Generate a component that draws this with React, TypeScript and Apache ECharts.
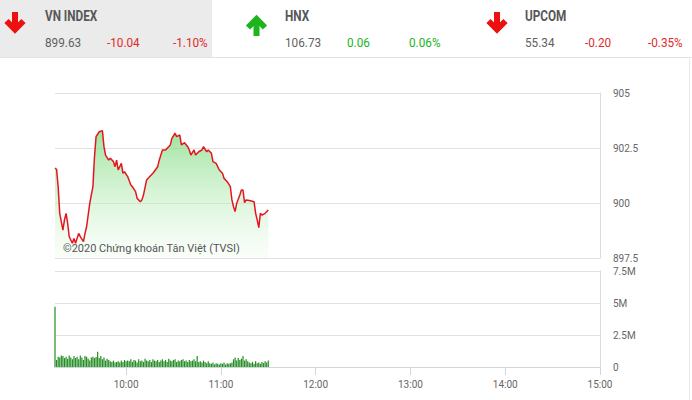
import { useEffect, useRef } from 'react';
import * as echarts from 'echarts';

// Intraday VN-Index (price line) — traced points
const priceTimes = [
  '09:15','09:16','09:17','09:18','09:20','09:21','09:22','09:23','09:24','09:25',
  '09:26','09:27','09:28','09:30','09:31','09:33','09:34','09:35','09:37','09:39',
  '09:40','09:41','09:43','09:45','09:46','09:47','09:49','09:50','09:52','09:53',
  '09:54','09:55','09:57','09:58','09:59','10:01','10:03','10:04','10:06','10:07',
  '10:09','10:10','10:11','10:13','10:15','10:17','10:20','10:21','10:23','10:25',
  '10:28','10:29','10:31','10:32','10:34','10:35','10:37','10:39','10:40','10:41',
  '10:43','10:44','10:46','10:48','10:49','10:51','10:52','10:54','10:55','10:57',
  '10:59','11:01','11:02','11:04','11:06','11:07','11:08','11:09','11:10','11:12',
  '11:13','11:14','11:15','11:16','11:18','11:21','11:22','11:23','11:24','11:25',
  '11:26','11:28','11:30'
];
const priceValues = [
  901.58, 901.53, 900.74, 899.53, 898.77, 899.23, 899.53, 899.08, 898.47, 898.32,
  898.17, 898.39, 898.17, 898.62, 898.47, 898.24, 898.62, 898.92, 899.98, 900.74,
  902.11, 903.02, 903.24, 903.29, 902.56, 902.18, 901.95, 902.03, 901.88, 901.65,
  901.95, 901.5, 901.8, 901.35, 901.42, 901.2, 900.82, 900.74, 900.52, 900.21,
  900.06, 900.14, 900.36, 901.05, 901.2, 901.35, 901.65, 901.95, 902.41, 902.41,
  902.64, 902.94, 903.17, 903.02, 903.09, 902.64, 902.74, 902.56, 902.41, 902.18,
  902.41, 902.18, 902.33, 902.41, 902.56, 902.33, 902.41, 902.26, 901.88, 901.8,
  901.5, 901.35, 901.12, 900.97, 900.74, 900.14, 899.83, 899.61, 899.98, 900.36,
  900.59, 900.59, 900.02, 900.14, 900.11, 900.06, 899.53, 899.23, 898.88, 899.53,
  899.45, 899.53, 899.68
];

// Volume per minute from 09:15 (millions)
const volumeValues = [
  4.7,
  0.55, 0.8, 0.75, 0.9, 0.85, 0.7, 0.8, 0.65, 0.9, 0.75, 0.6,
  0.85, 0.7, 0.8, 0.6, 0.9, 0.75, 0.55, 0.85, 0.8, 0.65, 0.5,
  0.75, 0.8, 0.7, 0.78,
  1.2,
  0.7, 0.85, 0.6, 0.75, 0.5, 0.65, 0.55,
  0.45, 0.4, 0.5, 0.35, 0.4, 0.45, 0.35, 0.5, 0.4, 0.55, 0.45,
  0.5, 0.45, 0.6, 0.4, 0.55, 0.5, 0.35, 0.6, 0.45, 0.5, 0.4, 0.65, 0.5, 0.45, 0.55, 0.4, 0.6, 0.5, 0.45, 0.55, 0.4,
  0.5, 0.6, 0.45, 0.55, 0.4, 0.65, 0.5, 0.45, 0.55, 0.6, 0.4, 0.5, 0.45, 0.55, 0.6, 0.45, 0.5, 0.4, 0.55, 0.45, 0.5, 0.6, 0.45,
  0.85,
  0.4, 0.45, 0.35, 0.5, 0.4, 0.3, 0.45,
  0.3, 0.25, 0.35, 0.2, 0.3, 0.25, 0.2, 0.3, 0.25, 0.35, 0.2, 0.3, 0.25, 0.3, 0.35,
  0.6, 0.75, 0.5, 0.7, 0.55, 0.65, 0.85, 0.5, 0.6, 0.45,
  0.35, 0.3, 0.4, 0.25, 0.45, 0.3, 0.35, 0.25, 0.4, 0.3, 0.45, 0.35, 0.5
];

const sessionStart = '09:15';
const sessionEnd = '15:00';
const hourLabels = ['10:00', '11:00', '12:00', '13:00', '14:00', '15:00'];

const priceMin = 897.5;
const priceMax = 905;
const priceStep = 2.5;
const volMin = 0;
const volMax = 7.5;
const volStep = 2.5;

const indexNames = ['VN INDEX', 'HNX', 'UPCOM'];
const indexValues = ['899.63', '106.73', '55.34'];
const indexChanges = ['-10.04', '0.06', '-0.20'];
const indexPcts = ['-1.10%', '0.06%', '-0.35%'];
const indexUp = [false, true, false];

const watermark = '©2020 Chứng khoán Tân Việt (TVSI)';

function toMin(t: string) {
  const [h, m] = t.split(':').map(Number);
  return h * 60 + m;
}
function fmt(m: number) {
  const h = Math.floor(m / 60);
  const mm = m % 60;
  return (h < 10 ? '0' : '') + h + ':' + (mm < 10 ? '0' : '') + mm;
}
const minuteCats: string[] = [];
for (let m = toMin(sessionStart); m <= toMin(sessionEnd); m++) minuteCats.push(fmt(m));

const RED = '#e3161e';
const GREEN = '#22b322';
const TXT = '#575757';

function buildHeader() {
  const els: any[] = [];
  els.push({ type: 'rect', shape: { x: 0, y: 0, width: 212, height: 57 }, style: { fill: '#ebebeb' }, silent: true });
  els.push({ type: 'line', shape: { x1: 0, y1: 57.5, x2: 692, y2: 57.5 }, style: { stroke: '#e3e3e3', lineWidth: 1 } });
  els.push({ type: 'line', shape: { x1: 689.5, y1: 57, x2: 689.5, y2: 400 }, style: { stroke: '#e8e8e8', lineWidth: 1 } });
  const arrowX = [15, 256.5, 497];
  const textX = [45, 285, 525];
  const chgX = [107, 347, 585];
  const pctX = [173, 409, 648];
  indexNames.forEach((name, i) => {
    const up = indexUp[i];
    const col = up ? '#1db51d' : '#ec1010';
    const cx = arrowX[i];
    if (up) {
      els.push({ type: 'line', shape: { x1: cx, y1: 19, x2: cx, y2: 36 }, style: { stroke: col, lineWidth: 6 } });
      els.push({ type: 'polyline', shape: { points: [[cx - 8.5, 27.5], [cx, 19], [cx + 8.5, 27.5]] }, style: { stroke: col, lineWidth: 6, lineJoin: 'miter', fill: 'none' } });
    } else {
      els.push({ type: 'line', shape: { x1: cx, y1: 12, x2: cx, y2: 29.5 }, style: { stroke: col, lineWidth: 6 } });
      els.push({ type: 'polyline', shape: { points: [[cx - 8.5, 21], [cx, 29.5], [cx + 8.5, 21]] }, style: { stroke: col, lineWidth: 6, lineJoin: 'miter', fill: 'none' } });
    }
    els.push({ type: 'text', x: textX[i], y: 16.5, scaleX: 0.84, style: { text: name, fill: TXT, font: 'bold 14px Roboto', textVerticalAlign: 'middle' } });
    els.push({ type: 'text', x: textX[i], y: 42, scaleX: 0.87, style: { text: indexValues[i], fill: '#5f5f5f', font: '13.5px Roboto', textVerticalAlign: 'middle' } });
    els.push({ type: 'text', x: chgX[i], y: 42, scaleX: 0.87, style: { text: indexChanges[i], fill: up ? GREEN : '#df2a2a', font: '13.5px Roboto', textVerticalAlign: 'middle' } });
    els.push({ type: 'text', x: pctX[i], y: 42, scaleX: 0.87, style: { text: indexPcts[i], fill: up ? GREEN : '#df2a2a', font: '13.5px Roboto', textVerticalAlign: 'middle' } });
  });
  els.push({ type: 'text', x: 63, y: 248, z: 100, style: { text: watermark, fill: '#555', font: '11px Roboto', textVerticalAlign: 'middle' } });
  return els;
}

export default function App() {
  const ref = useRef<HTMLDivElement>(null);
  useEffect(() => {
    document.body.style.margin = '0';
    if (!ref.current) return;
    const chart = echarts.init(ref.current, null, { renderer: 'svg' });
    const isHour = (_i: number, v: string) => hourLabels.indexOf(v) >= 0;
    chart.setOption({
      animation: false,
      backgroundColor: '#fff',
      textStyle: { fontFamily: 'Roboto' },
      grid: [
        { left: 55, top: 93, width: 545, height: 165 },
        { left: 55, top: 271, width: 545, height: 96 },
      ],
      xAxis: [
        {
          type: 'category', gridIndex: 0, data: minuteCats, boundaryGap: false,
          axisLine: { show: false }, axisTick: { show: false }, axisLabel: { show: false }, splitLine: { show: false },
        },
        {
          type: 'category', gridIndex: 1, data: minuteCats, boundaryGap: false,
          axisLine: { show: true, lineStyle: { color: '#cfd5da' } },
          axisTick: { show: true, interval: isHour, length: 8, lineStyle: { color: '#cfd5da' } },
          axisLabel: { interval: isHour, color: '#666', fontSize: 10, margin: 12 },
          splitLine: { show: false },
        },
      ],
      yAxis: [
        {
          type: 'value', gridIndex: 0, position: 'right', min: priceMin, max: priceMax, interval: priceStep,
          axisLine: { show: true, lineStyle: { color: '#d6dce2' } }, axisTick: { show: false },
          axisLabel: { color: '#666', fontSize: 10, margin: 13 },
          splitLine: { lineStyle: { color: '#e2e2e2' } },
        },
        {
          type: 'value', gridIndex: 1, position: 'right', min: volMin, max: volMax, interval: volStep,
          axisLine: { show: true, lineStyle: { color: '#d6dce2' } }, axisTick: { show: false },
          axisLabel: { color: '#666', fontSize: 10, margin: 13, formatter: (v: number) => (v === 0 ? '0' : v + 'M') },
          splitLine: { lineStyle: { color: '#e2e2e2' } },
        },
      ],
      series: [
        {
          type: 'line', xAxisIndex: 0, yAxisIndex: 0, symbol: 'none',
          data: priceTimes.map((t, i) => [t, priceValues[i]]),
          lineStyle: { color: RED, width: 1.5 },
          areaStyle: {
            color: new echarts.graphic.LinearGradient(0, 0, 0, 1, [
              { offset: 0, color: '#74d874' },
              { offset: 1, color: 'rgba(235,250,235,0.4)' },
            ]),
          },
        },
        {
          type: 'bar', xAxisIndex: 1, yAxisIndex: 1, barWidth: 1.2,
          data: volumeValues,
          itemStyle: { color: '#238c23' },
        },
      ],
      graphic: buildHeader(),
    });
    return () => chart.dispose();
  }, []);
  return <div ref={ref} style={{ width: 692, height: 400 }} />;
}
